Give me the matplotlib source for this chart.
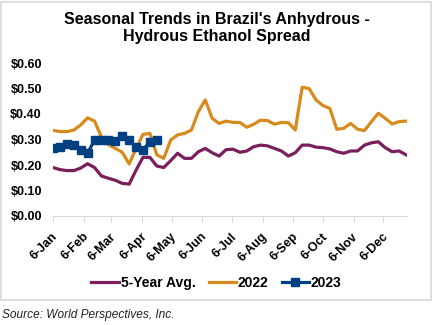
import datetime as dt

import matplotlib
matplotlib.use("Agg")
import matplotlib.pyplot as plt
import matplotlib.dates as mdates
from matplotlib.patches import Rectangle
from matplotlib.transforms import ScaledTranslation

plt.rcParams["font.family"] = ["Liberation Sans", "DejaVu Sans"]

# weekly spread, USD per liter
avg_5yr = [0.190, 0.182, 0.178, 0.178, 0.188, 0.205, 0.190, 0.157, 0.148, 0.140,
           0.128, 0.125, 0.180, 0.230, 0.230, 0.196, 0.190, 0.217, 0.246, 0.226,
           0.226, 0.252, 0.265, 0.248, 0.235, 0.260, 0.262, 0.250, 0.255, 0.272,
           0.278, 0.275, 0.265, 0.255, 0.235, 0.248, 0.278, 0.278, 0.270, 0.268,
           0.263, 0.252, 0.246, 0.255, 0.255, 0.278, 0.287, 0.291, 0.268, 0.252,
           0.255, 0.240]
y2022 = [0.336, 0.331, 0.331, 0.337, 0.357, 0.385, 0.372, 0.310, 0.280, 0.265,
         0.250, 0.204, 0.265, 0.320, 0.324, 0.240, 0.226, 0.298, 0.318, 0.324,
         0.337, 0.409, 0.455, 0.383, 0.363, 0.372, 0.367, 0.367, 0.348, 0.360,
         0.376, 0.374, 0.360, 0.367, 0.366, 0.337, 0.505, 0.500, 0.455, 0.433,
         0.422, 0.340, 0.344, 0.363, 0.340, 0.335, 0.370, 0.403, 0.383, 0.361,
         0.370, 0.372]
y2023 = [0.265, 0.270, 0.282, 0.277, 0.258, 0.247, 0.297, 0.298, 0.298, 0.295,
         0.314, 0.298, 0.271, 0.259, 0.291, 0.298]

start = dt.date(2022, 1, 6)
weeks = [start + dt.timedelta(days=7 * i) for i in range(len(avg_5yr))]
months = [dt.date(2022, m, 6) for m in range(1, 13)]
y_ticks = [0.0, 0.1, 0.2, 0.3, 0.4, 0.5, 0.6]

fig = plt.figure(figsize=(4.33, 3.25), dpi=100)
fig.patches.append(Rectangle((0.002, 0.077), 0.993, 0.918, transform=fig.transFigure,
                             fill=False, edgecolor="#d9d9d9", linewidth=1.2))

ax = fig.add_axes([53 / 433, 1 - 216 / 325, (407 - 53) / 433, (216 - 63) / 325])
ax.plot(weeks, avg_5yr, color="#7a1f5c", lw=2.3, label="5-Year Avg.")
ax.plot(weeks, y2022, color="#d98a1c", lw=2.3, label="2022")
ax.plot(weeks[:len(y2023)], y2023, color="#004080", lw=2.3, marker="s", ms=5.5,
        label="2023")

ax.set_ylim(0, 0.6)
ax.set_yticks(y_ticks)
ax.set_yticklabels([f"${v:.2f}" for v in y_ticks], fontsize=9, fontweight="bold")
ax.tick_params(axis="y", length=0, pad=8)

ax.set_xlim(start, dt.date(2022, 12, 30))
ax.set_xticks(months)
ax.xaxis.set_major_formatter(mdates.DateFormatter("%-d-%b"))
ax.tick_params(axis="x", length=4, color="#d9d9d9", pad=2)
# nudge the rotated month labels down a little
shift = ScaledTranslation(-1 / 72, -4.5 / 72, fig.dpi_scale_trans)
for lbl in ax.get_xticklabels():
    lbl.set_rotation(45)
    lbl.set_ha("right")
    lbl.set_rotation_mode("anchor")
    lbl.set_fontsize(9)
    lbl.set_fontweight("bold")
    lbl.set_transform(lbl.get_transform() + shift)

for side in ("top", "right", "left"):
    ax.spines[side].set_visible(False)
ax.spines["bottom"].set_color("#d9d9d9")

fig.text(0.5, 1 - 28 / 325, "Seasonal Trends in Brazil's Anhydrous -\nHydrous Ethanol Spread",
         ha="center", va="center", fontsize=11.5, fontweight="bold", linespacing=1.1)

fig.legend(loc="center", bbox_to_anchor=(0.5, 1 - 283 / 325), ncol=3, frameon=False,
           prop={"size": 10, "weight": "bold"}, handlelength=1.95, handletextpad=0.15,
           columnspacing=0.95)

fig.text(0.005, 1 - 315 / 325, "Source: World Perspectives, Inc.", ha="left",
         va="center", fontsize=8.6, style="italic", color="#222222")

fig.savefig("out.png", dpi=100)
